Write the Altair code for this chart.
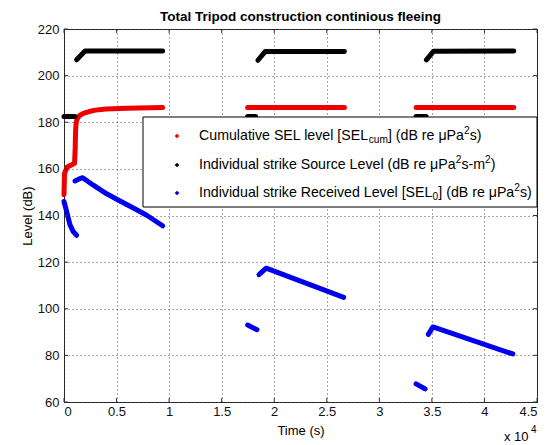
import altair as alt
import pandas as pd

# ---------------- data ----------------
series_names = ["Cumulative SEL", "Source Level", "Received Level"]
series_colors = ["#ee0000", "#000000", "#0000ee"]

red_t = [[0, 50, 300, 700, 1000, 1060, 1100, 1150, 1250, 1450, 1840, 2400, 3000, 4000, 6000, 9380],
         [17470, 26680],
         [33500, 42790]]
red_L = [[149, 158, 160.8, 161.7, 162.4, 168, 176, 179.5, 181.5, 182.8, 183.8, 184.6, 185.2, 185.7, 186.0, 186.3],
         [186.3, 186.3],
         [186.3, 186.3]]

black_t = [[0, 1030], [1200, 2000, 9380],
           [17470, 18230], [18450, 19140, 26680],
           [33500, 34450], [34480, 35170, 42790]]
black_L = [[182.5, 182.5], [206.8, 210.6, 210.6],
           [182.5, 182.5], [206.6, 210.3, 210.4],
           [182.5, 182.5], [206.8, 210.5, 210.6]]

blue_t = [[0, 260, 570, 890, 1200],
          [1050, 1400, 1780, 2790, 4060, 5330, 6600, 7870, 9380],
          [17470, 18360], [18550, 19230, 26610],
          [33500, 34350], [34660, 35100, 42700]]
blue_L = [[146, 141.6, 136, 133, 131.5],
          [154.8, 155.6, 156.2, 153, 149.3, 146.2, 143.2, 140.1, 135.6],
          [93.0, 91.0], [114.6, 117.4, 104.9],
          [67.8, 65.6], [89.0, 92.2, 80.6]]

x_ticks = [0, 5000, 10000, 15000, 20000, 25000, 30000, 35000, 40000, 45000]
y_ticks = [60, 80, 100, 120, 140, 160, 180, 200, 220]

title_text = "Total Tripod construction continious fleeing"
x_title = "Time (s)"
y_title = "Level (dB)"
legend_rows = [
    [("Cumulative SEL level [SEL", "n"), ("cum", "sub"), ("] (dB re μPa", "n"), ("2", "sup"), ("s)", "n")],
    [("Individual strike Source Level (dB re μPa", "n"), ("2", "sup"), ("s-m", "n"), ("2", "sup"), (")", "n")],
    [("Individual strike Received Level [SEL", "n"), ("0", "sub"), ("] (dB re μPa", "n"), ("2", "sup"), ("s)", "n")],
]

# ---------------- build table ----------------
rows = []
for name, ts, Ls in [(series_names[0], red_t, red_L),
                     (series_names[1], black_t, black_L),
                     (series_names[2], blue_t, blue_L)]:
    for k, (tt, LL) in enumerate(zip(ts, Ls)):
        for i, (t, L) in enumerate(zip(tt, LL)):
            rows.append({"series": name, "seg": f"{name}-{k}", "i": i, "t": t, "L": L})
df = pd.DataFrame(rows)

W, H = 473, 373
FONT = "Liberation Sans"
xscale = alt.Scale(domain=[0, 45000], nice=False, zero=False)
yscale = alt.Scale(domain=[60, 220], nice=False, zero=False)

grid_kw = dict(grid=True, gridColor="#000000", gridDash=[1, 3], gridOpacity=0.7, gridWidth=1,
               ticks=False, domain=False, labelFont=FONT, labelFontSize=13, labelColor="#111111",
               titleFont=FONT, titleFontSize=13, titleFontWeight="normal", titleColor="#000000")

xaxis = alt.Axis(values=x_ticks, labelExpr="format(datum.value/10000, '~g')", labelPadding=3,
                 title=x_title, titleX=W / 2, titleY=28, titleBaseline="middle", titleAlign="center",
                 **grid_kw)
yaxis = alt.Axis(values=y_ticks, labelPadding=5, title=y_title, titleAngle=270, titleX=-37,
                 titleY=H / 2, titleBaseline="middle", titleAlign="center", **grid_kw)

xenc = alt.X("t:Q", scale=xscale, axis=xaxis)
yenc = alt.Y("L:Q", scale=yscale, axis=yaxis)

lines = alt.Chart(df).mark_line(strokeWidth=5, strokeCap="round", strokeJoin="round").encode(
    x=xenc,
    y=yenc,
    color=alt.Color("series:N", scale=alt.Scale(domain=series_names, range=series_colors), legend=None),
    detail="seg:N",
    order="i:Q",
)

xt = pd.DataFrame({"t": x_ticks})
yt = pd.DataFrame({"L": y_ticks})
tick_col = "#333333"
ticks_b = alt.Chart(xt).mark_rule(color=tick_col).encode(x=xenc, y=alt.value(H), y2=alt.value(H - 4))
ticks_t = alt.Chart(xt).mark_rule(color=tick_col).encode(x=xenc, y=alt.value(0), y2=alt.value(4))
ticks_l = alt.Chart(yt).mark_rule(color=tick_col).encode(y=yenc, x=alt.value(0), x2=alt.value(4))
ticks_r = alt.Chart(yt).mark_rule(color=tick_col).encode(y=yenc, x=alt.value(W), x2=alt.value(W - 4))

one = pd.DataFrame({"a": [0]})

# ---------------- legend ----------------
AW = {' ': 278, '(': 333, ')': 333, '-': 333, '[': 278, ']': 278, 'μ': 576,
      'C': 722, 'E': 667, 'I': 278, 'L': 556, 'P': 667, 'R': 722, 'S': 667, 'B': 667,
      'a': 556, 'b': 556, 'c': 500, 'd': 556, 'e': 556, 'f': 278, 'g': 556, 'h': 556, 'i': 222,
      'k': 500, 'l': 222, 'm': 833, 'n': 556, 'o': 556, 'p': 556, 'r': 333, 's': 500, 't': 278,
      'u': 556, 'v': 500, 'w': 722, 'x': 500, 'y': 500}


def tw(s, size):
    return sum(AW.get(ch, 556) for ch in s) * size / 1000.0


LFS = 14.2
SFS = 10.2
box = alt.Chart(one).mark_rect(fill="white", stroke="#000000", strokeWidth=1).encode(
    x=alt.value(79), x2=alt.value(W), y=alt.value(88), y2=alt.value(178))
legend_layers = [box]
row_y = [107, 136, 164]
for r, (pieces, col) in enumerate(zip(legend_rows, series_colors)):
    legend_layers.append(alt.Chart(one).mark_point(shape="diamond", filled=True, size=22, opacity=1).encode(
        x=alt.value(113), y=alt.value(row_y[r]), color=alt.value(col)))
    x = 135.0
    for txt, kind in pieces:
        fs = LFS if kind == "n" else SFS
        dy = 0 if kind == "n" else (4 if kind == "sub" else -5)
        legend_layers.append(alt.Chart(one).mark_text(
            text=txt, align="left", baseline="middle", font=FONT, fontSize=fs, color="#000000").encode(
            x=alt.value(x), y=alt.value(row_y[r] + dy)))
        x += tw(txt, fs)

# ---------------- title & exponent ----------------
title = alt.Chart(one).mark_text(text=title_text, align="center", baseline="middle", font=FONT,
                                 fontSize=13.5, fontWeight="bold", color="#000000").encode(
    x=alt.value(W / 2), y=alt.value(-12))
exp1 = alt.Chart(one).mark_text(text="x 10", align="left", baseline="middle", font=FONT,
                                fontSize=13, color="#000000").encode(x=alt.value(440), y=alt.value(408))
exp2 = alt.Chart(one).mark_text(text="4", align="left", baseline="middle", font=FONT,
                                fontSize=10, color="#000000").encode(x=alt.value(467), y=alt.value(401))

chart = alt.layer(lines, ticks_b, ticks_t, ticks_l, ticks_r, *legend_layers, title, exp1, exp2).properties(
    width=W, height=H,
    autosize=alt.AutoSizeParams(type="none"),
    padding={"left": 56, "top": 21, "right": 8, "bottom": 45},
    background="white",
).configure_view(stroke="#333333", strokeWidth=1)

chart.save("out.html", embed_options={"renderer": "svg", "actions": False})
